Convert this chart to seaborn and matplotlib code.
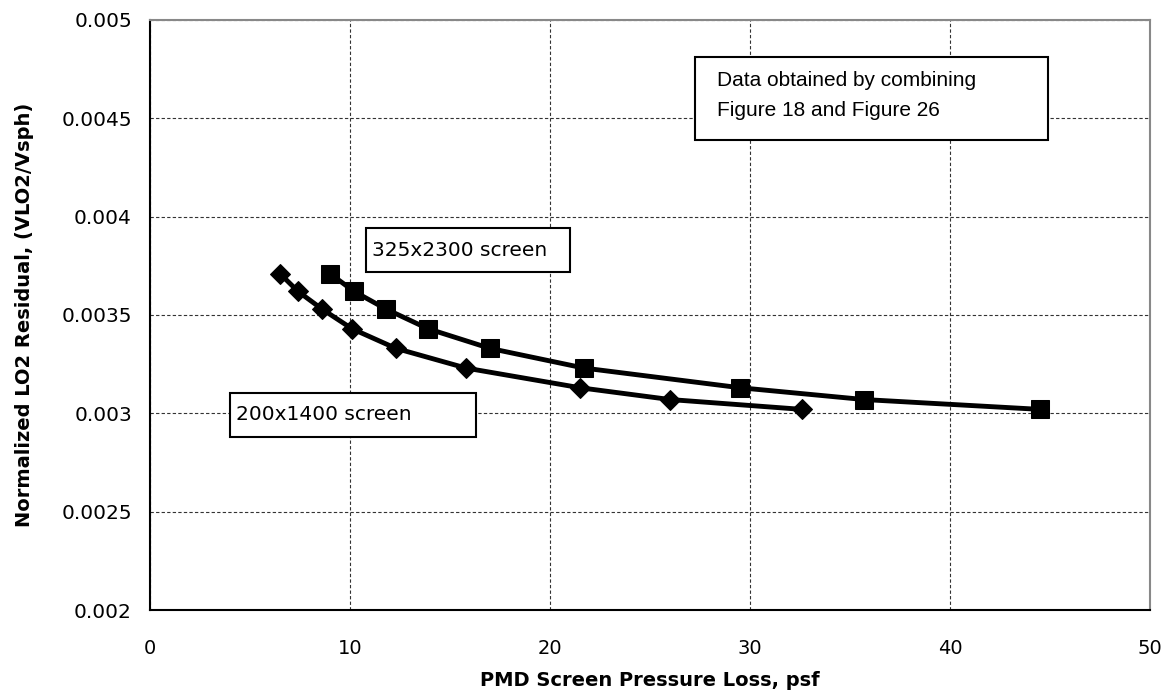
import matplotlib
matplotlib.use("Agg")
import matplotlib.pyplot as plt
import matplotlib.patches as mpatches
import numpy as np
import pandas as pd
import seaborn as sns

# 200x1400 screen (diamonds)
small_loss = [6.5, 7.4, 8.6, 10.1, 12.3, 15.8, 21.5, 26.0, 32.6]
small_resid = [0.00371, 0.00362, 0.00353, 0.00343, 0.00333, 0.00323, 0.00313, 0.00307, 0.00302]

# 325x2300 screen (squares)
large_loss = [9.0, 10.2, 11.8, 13.9, 17.0, 21.7, 29.5, 35.7, 44.5]
large_resid = [0.00371, 0.00362, 0.00353, 0.00343, 0.00333, 0.00323, 0.00313, 0.00307, 0.00302]

X_TICKS = [0, 10, 20, 30, 40, 50]
Y_TICKS = [0.002, 0.0025, 0.003, 0.0035, 0.004, 0.0045, 0.005]
Y_LABELS = ["0.002", "0.0025", "0.003", "0.0035", "0.004", "0.0045", "0.005"]


def main() -> None:
    sns.set_theme(style="white")
    plt.rcParams["font.family"] = ["DejaVu Sans"]
    plt.rcParams["text.color"] = "black"
    plt.rcParams["axes.labelcolor"] = "black"

    fig = plt.figure(figsize=(11.67, 6.91), dpi=100)
    ax = fig.add_axes([0.1285, 0.1172, 0.857, 0.854])

    small = pd.DataFrame({"loss": small_loss, "resid": small_resid})
    large = pd.DataFrame({"loss": large_loss, "resid": large_resid})

    sns.lineplot(data=small, x="loss", y="resid", sort=False, color="black", lw=3.5,
                 marker="D", markersize=10.5, markeredgecolor="black", ax=ax)
    sns.lineplot(data=large, x="loss", y="resid", sort=False, color="black", lw=3.5,
                 marker="s", markersize=13, markeredgecolor="black", ax=ax)

    ax.set_xlim(0, 50)
    ax.set_ylim(0.002, 0.005)
    ax.set_xticks(X_TICKS)
    ax.set_xticklabels([str(t) for t in X_TICKS], fontsize=14)
    ax.set_yticks(Y_TICKS)
    ax.set_yticklabels(Y_LABELS, fontsize=14.5)
    ax.tick_params(axis="both", direction="out", length=5, width=1, colors="black",
                   labelcolor="black", pad=8)
    ax.tick_params(axis="x", pad=16)
    ax.grid(True, color="#333333", ls=(0, (3, 2)), lw=0.8)

    for side in ["left", "bottom"]:
        ax.spines[side].set_color("black")
        ax.spines[side].set_linewidth(1.5)
    for side in ["top", "right"]:
        ax.spines[side].set_color("#888888")
        ax.spines[side].set_linewidth(1.5)

    ax.set_xlabel("PMD Screen Pressure Loss, psf", fontsize=14, fontweight="bold", labelpad=9)
    ax.set_ylabel("Normalized LO2 Residual, (VLO2/Vsph)", fontsize=14, fontweight="bold", labelpad=20)

    # text boxes
    boxes = [
        ((10.8, 0.003719), 10.2, 0.000223),
        ((4.0, 0.002880), 12.3, 0.000223),
        ((27.25, 0.004390), 17.65, 0.000422),
    ]
    for (x0, y0), w, h in boxes:
        ax.add_patch(mpatches.Rectangle((x0, y0), w, h, fill=True, fc="white",
                                        ec="black", lw=1.5, zorder=5))

    ax.text(11.1, 0.00383, "325x2300 screen", fontsize=14.5, va="center", zorder=6)
    ax.text(4.3, 0.002992, "200x1400 screen", fontsize=14.5, va="center", zorder=6)
    ax.text(28.35, 0.00469, "Data obtained by combining", fontsize=15,
            family="Liberation Sans", va="center", zorder=6)
    ax.text(28.35, 0.00454, "Figure 18 and Figure 26", fontsize=15,
            family="Liberation Sans", va="center", zorder=6)

    fig.savefig("out.png", dpi=100)
    plt.close(fig)


if __name__ == "__main__":
    main()
